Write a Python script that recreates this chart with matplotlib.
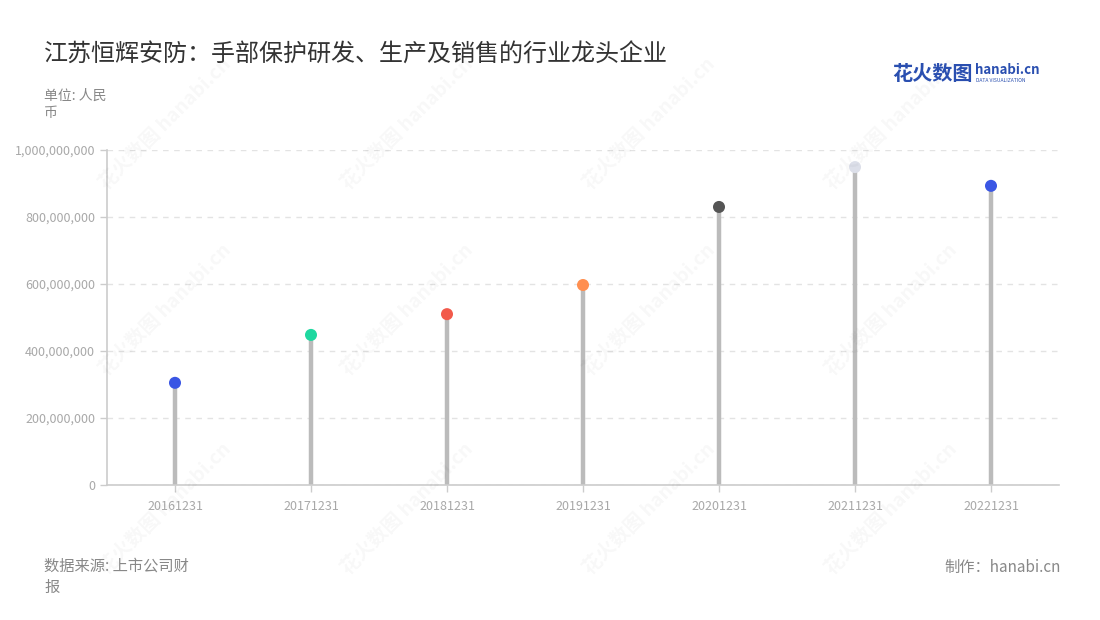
import matplotlib
matplotlib.use("Agg")
import matplotlib.pyplot as plt
from matplotlib.ticker import FuncFormatter, MultipleLocator

plt.rcParams['font.family'] = ['Noto Sans CJK SC', 'DejaVu Sans']

categories = ["20161231", "20171231", "20181231", "20191231", "20201231", "20211231", "20221231"]
values = [305e6, 448e6, 510e6, 597e6, 830e6, 949e6, 893e6]
dot_colors = ["#3a56e4", "#1fd8a0", "#f25a4b", "#ff8f50", "#555555", "#dcdfe9", "#3a56e4"]

title = "江苏恒辉安防：手部保护研发、生产及销售的行业龙头企业"
unit = "单位: 人民\n币"
source = "数据来源: 上市公司财\n报"
credit = "制作：hanabi.cn"

fig = plt.figure(figsize=(11, 6.2), dpi=100)
ax = fig.add_axes([107/1100, 1-485/620, (1059-107)/1100, (485-150)/620])

x = list(range(len(categories)))
ax.vlines(x, 0, values, color="#bbbbbb", linewidth=3.2, zorder=2)
ax.scatter(x, values, s=75, c=dot_colors, zorder=3, edgecolors="none")

ax.set_xlim(-0.5, len(categories) - 0.5)
ax.set_ylim(0, 1e9)
ax.yaxis.set_major_locator(MultipleLocator(2e8))
ax.yaxis.set_major_formatter(FuncFormatter(lambda v, p: f"{int(v):,}"))
ax.set_xticks(x)
ax.set_xticklabels(categories)

for s in ["top", "right"]:
    ax.spines[s].set_visible(False)
for s in ["left", "bottom"]:
    ax.spines[s].set_color("#cccccc")
    ax.spines[s].set_linewidth(1.2)
ax.tick_params(axis="both", colors="#cccccc", labelcolor="#a8a8a8", labelsize=9, length=5, width=1)
ax.tick_params(axis="x", pad=6)
ax.grid(axis="y", color="#e3e3e3", linestyle=(0, (4, 4)), linewidth=1)
ax.set_axisbelow(True)

# watermarks
for wx in [0.15, 0.37, 0.59, 0.81]:
    for wy in [0.80, 0.50, 0.18]:
        fig.text(wx, wy, "花火数图 hanabi.cn", rotation=45, color="#000000", alpha=0.03,
                 fontsize=14, fontweight="bold", ha="center", va="center")

fig.text(44/1100, 1-55/620, title, fontsize=17.3, color="#333333", va="center", ha="left")
fig.text(44/1100, 1-104/620, unit, fontsize=10, color="#888888", va="center", ha="left", linespacing=1.3)
fig.text(44/1100, 1-577/620, source, fontsize=11, color="#888888", va="center", ha="left", linespacing=1.3)
fig.text(1061/1100, 1-567/620, credit, fontsize=11, color="#888888", va="center", ha="right")

# logo
fig.text(892/1100, 1-73/620, "花火数图", fontsize=14.5, color="#2a4fb0", fontweight="bold", va="center", ha="left")
fig.text(975/1100, 1-70/620, "hanabi.cn", fontsize=9.5, color="#2a4fb0", fontweight="bold", va="center", ha="left")
fig.text(976/1100, 1-80/620, "DATA VISUALIZATION", fontsize=3.6, color="#2a4fb0", va="center", ha="left")

fig.savefig("out.png", dpi=100, facecolor="white")
